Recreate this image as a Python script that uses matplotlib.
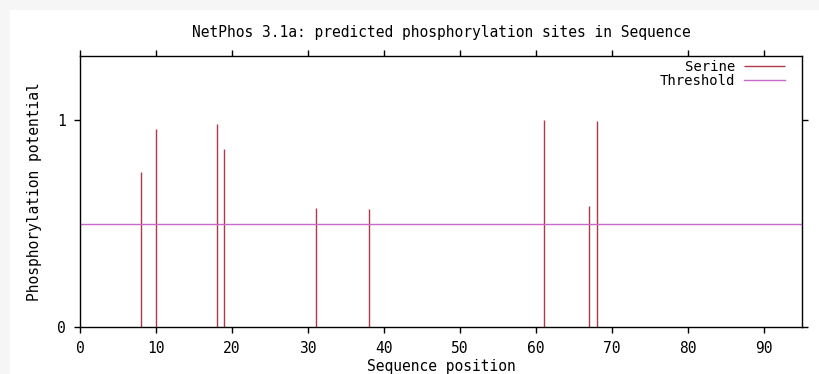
import matplotlib.pyplot as plt
from matplotlib.patches import Rectangle

# predicted serine sites (position, score)
positions = [8, 10, 18, 19, 31, 38, 61, 67, 68]
scores = [0.751, 0.959, 0.982, 0.858, 0.575, 0.569, 1.0, 0.583, 0.994]
threshold = 0.5
seq_len = 95

xticks = list(range(0, 91, 10))
yticks = [0, 1]

title = "NetPhos 3.1a: predicted phosphorylation sites in Sequence"
serine_color = '#b03a4a'
threshold_color = '#c868c8'


def plot_netphos():
    plt.rcParams['font.family'] = ['DejaVu Sans Mono']
    fs = 10.5

    fig = plt.figure(figsize=(8.2, 3.74), dpi=100, facecolor='#f6f6f6')
    fig.patches.append(Rectangle((10 / 820, 0), 1, 364 / 374, transform=fig.transFigure,
                                 facecolor='white', edgecolor='none', zorder=-1))
    ax = fig.add_axes([80 / 820, 1 - 327.3 / 374, (802.3 - 80) / 820, (327.3 - 56) / 374])
    ax.set_facecolor('white')

    ax.vlines(positions, 0, scores, color=serine_color, lw=1.0, label='Serine')
    ax.axhline(threshold, color=threshold_color, lw=1.0, label='Threshold')

    ax.set_xlim(0, seq_len)
    ax.set_ylim(0, 1.309)
    ax.set_xticks(xticks)
    ax.set_yticks(yticks)
    ax.tick_params(direction='out', length=4, width=1, labelsize=fs,
                   top=True, right=True, pad=6)
    for s in ax.spines.values():
        s.set_linewidth(1.0)

    ax.set_title(title, fontsize=fs, pad=14)
    ax.set_xlabel("Sequence position", fontsize=fs, labelpad=2)
    ax.set_ylabel("Phosphorylation potential", fontsize=fs, labelpad=11)

    ax.legend(loc='upper right', frameon=False, markerfirst=False, fontsize=10,
              handlelength=3.0, handletextpad=0.6, labelspacing=0.0,
              borderaxespad=0, borderpad=0,
              bbox_to_anchor=(1 - 17 / 722.3, 1 - 4 / 271.3))

    fig.savefig("out.png", dpi=100, facecolor=fig.get_facecolor())
    plt.close('all')


if __name__ == "__main__":
    plot_netphos()
